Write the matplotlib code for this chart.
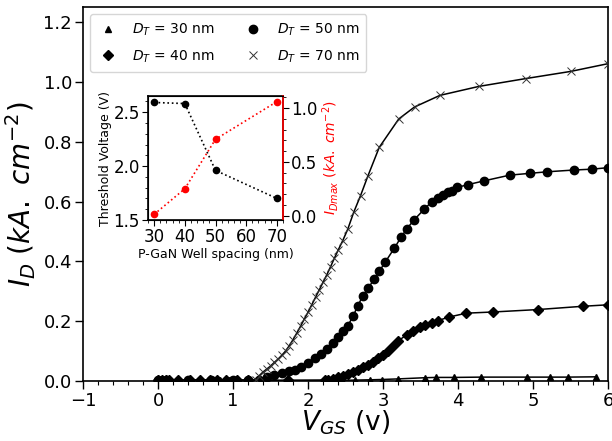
"""Transfer curves I_D(V_GS) for four P-GaN well spacings, with an inset
showing threshold voltage and max drain current against the spacing.

    python plot.py     # saves out.png
"""

import matplotlib

matplotlib.use("Agg")
import matplotlib.pyplot as plt
from matplotlib.ticker import MultipleLocator

OUTPUT_PATH = "out.png"

# D_T = 30 nm (triangles)
vgs_30 = [0.00, 0.05, 0.12, 0.27, 0.43, 0.56, 0.69, 0.82, 0.95, 1.05, 1.20, 1.73,
          2.30, 2.45, 2.63, 2.83, 2.98, 3.20, 3.56, 3.71, 3.95, 4.31, 4.92, 5.22,
          5.46, 5.84]
id_30 = [0.002, 0.002, 0.002, 0.002, 0.002, 0.002, 0.002, 0.002, 0.002, 0.002,
         0.002, 0.002, 0.002, 0.002, 0.003, 0.004, 0.005, 0.007, 0.011, 0.012,
         0.012, 0.013, 0.013, 0.013, 0.013, 0.014]

# D_T = 40 nm (diamonds)
vgs_40 = [0.00, 0.05, 0.10, 0.15, 0.27, 0.43, 0.56, 0.69, 0.78, 0.90, 1.05, 1.20,
          1.73, 2.22, 2.27, 2.33, 2.40, 2.46, 2.53, 2.60, 2.66, 2.73, 2.80, 2.86,
          2.93, 3.00, 3.07, 3.13, 3.20, 3.32, 3.40, 3.49, 3.56, 3.65, 3.73, 3.88,
          4.11, 4.47, 5.06, 5.66, 6.00]
id_40 = [0.003, 0.003, 0.003, 0.003, 0.003, 0.003, 0.003, 0.003, 0.003, 0.003,
         0.003, 0.003, 0.002, 0.003, 0.005, 0.008, 0.012, 0.017, 0.024, 0.029,
         0.037, 0.046, 0.054, 0.065, 0.076, 0.087, 0.102, 0.118, 0.134, 0.155,
         0.166, 0.180, 0.188, 0.194, 0.202, 0.214, 0.227, 0.231, 0.239, 0.250,
         0.255]

# D_T = 50 nm (circles)
vgs_50 = [0.00, 0.10, 0.40, 0.70, 1.00, 1.20, 1.35, 1.45, 1.55, 1.65, 1.75, 1.82,
          1.91, 2.00, 2.09, 2.17, 2.25, 2.33, 2.40, 2.46, 2.53, 2.60, 2.66, 2.73,
          2.80, 2.88, 2.95, 3.03, 3.15, 3.24, 3.32, 3.41, 3.55, 3.65, 3.73, 3.80,
          3.86, 3.92, 3.99, 4.13, 4.35, 4.69, 4.96, 5.18, 5.54, 5.79, 6.00]
id_50 = [0.003, 0.003, 0.003, 0.003, 0.003, 0.003, 0.005, 0.014, 0.020, 0.027,
         0.033, 0.038, 0.048, 0.059, 0.076, 0.091, 0.107, 0.127, 0.147, 0.166,
         0.185, 0.216, 0.250, 0.284, 0.310, 0.340, 0.367, 0.398, 0.444, 0.481,
         0.510, 0.538, 0.575, 0.600, 0.614, 0.622, 0.631, 0.636, 0.648, 0.657,
         0.670, 0.689, 0.695, 0.700, 0.706, 0.709, 0.714]

# D_T = 70 nm (crosses)
vgs_70 = [1.30, 1.35, 1.40, 1.45, 1.50, 1.55, 1.60, 1.65, 1.70, 1.75, 1.80, 1.85,
          1.90, 1.95, 2.00, 2.05, 2.10, 2.15, 2.20, 2.25, 2.30, 2.35, 2.40, 2.46,
          2.53, 2.61, 2.70, 2.80, 2.95, 3.21, 3.42, 3.76, 4.28, 4.90, 5.50, 6.00]
id_70 = [0.005, 0.018, 0.030, 0.040, 0.050, 0.062, 0.073, 0.086, 0.100, 0.118,
         0.138, 0.160, 0.183, 0.207, 0.230, 0.255, 0.280, 0.305, 0.330, 0.355,
         0.382, 0.410, 0.437, 0.468, 0.508, 0.565, 0.620, 0.687, 0.782, 0.877,
         0.917, 0.956, 0.986, 1.012, 1.036, 1.062]

# inset: threshold voltage and I_Dmax vs well spacing
spacing = [30, 40, 50, 70]
v_threshold = [2.59, 2.58, 1.96, 1.70]
id_max = [0.012, 0.25, 0.71, 1.06]

SERIES = [
    (vgs_30, id_30, "^", 4.5, r"$D_T$ = 30 nm"),
    (vgs_40, id_40, "D", 5, r"$D_T$ = 40 nm"),
    (vgs_50, id_50, "o", 6, r"$D_T$ = 50 nm"),
    (vgs_70, id_70, "x", 6, r"$D_T$ = 70 nm"),
]


def build_figure():
    fig = plt.figure(figsize=(6.12, 4.41), dpi=100)
    ax = fig.add_axes([83 / 612, 1 - 381 / 441, 525 / 612, 373.5 / 441])

    for x, y, marker, ms, label in SERIES:
        ax.plot(x, y, "-", color="black", lw=1.1, zorder=2)
        if marker == "x":
            ax.plot(x, y, ls="none", marker="x", ms=ms, mew=0.7, color="#333333",
                    label=label, zorder=3)
        else:
            ax.plot(x, y, ls="none", marker=marker, ms=ms, color="black",
                    label=label, zorder=3)

    ax.set_xlim(-1, 6)
    ax.set_ylim(0, 1.25)
    ax.xaxis.set_minor_locator(MultipleLocator(0.2))
    ax.yaxis.set_major_locator(MultipleLocator(0.2))
    ax.tick_params(which="major", labelsize=13, length=6, width=1, pad=2)
    ax.tick_params(which="minor", length=3, width=0.8)
    for sp in ax.spines.values():
        sp.set_linewidth(1.2)
    ax.set_xlabel(r"$V_{GS}$ (v)", fontsize=19, labelpad=-1)
    ax.set_ylabel(r"$I_D\ (kA.\ cm^{-2})$", fontsize=20, labelpad=4)
    ax.legend(loc="upper left", ncol=2, fontsize=10, columnspacing=2.0,
              handletextpad=0.9, handlelength=1.6, labelspacing=0.75,
              borderpad=0.5)

    # inset
    ins = fig.add_axes([148 / 612, 1 - 220 / 441, 135 / 612, 124 / 441])
    ins.plot(spacing, v_threshold, ":", color="black", marker="o", ms=4.5, lw=1.2)
    ins.set_xlim(28, 72)
    ins.set_ylim(1.5, 2.65)
    ins.xaxis.set_major_locator(MultipleLocator(10))
    ins.xaxis.set_minor_locator(MultipleLocator(2))
    ins.yaxis.set_major_locator(MultipleLocator(0.5))
    ins.yaxis.set_minor_locator(MultipleLocator(0.1))
    ins.tick_params(which="major", labelsize=12, length=4, pad=2)
    ins.tick_params(which="minor", length=2)
    ins.set_xlabel("P-GaN Well spacing (nm)", fontsize=9, labelpad=1)
    ins.set_ylabel("Threshold Voltage (V)", fontsize=9, labelpad=1)
    for sp in ins.spines.values():
        sp.set_linewidth(1.2)

    ins2 = ins.twinx()
    ins2.plot(spacing, id_max, ":", color="red", marker="o", ms=4.5, lw=1.2)
    ins2.yaxis.set_major_locator(MultipleLocator(0.5))
    ins2.yaxis.set_minor_locator(MultipleLocator(0.1))
    ins2.tick_params(which="major", labelsize=12, length=4, pad=2)
    ins2.tick_params(which="minor", length=2)
    ins2.spines["right"].set_color("red")
    ins2.spines["right"].set_linewidth(1.2)
    ins2.set_ylabel(r"$I_{Dmax}\ (kA.\ cm^{-2})$", fontsize=10, color="red",
                    labelpad=2)
    return fig


def main():
    fig = build_figure()
    fig.savefig(OUTPUT_PATH, dpi=100)


if __name__ == "__main__":
    main()
